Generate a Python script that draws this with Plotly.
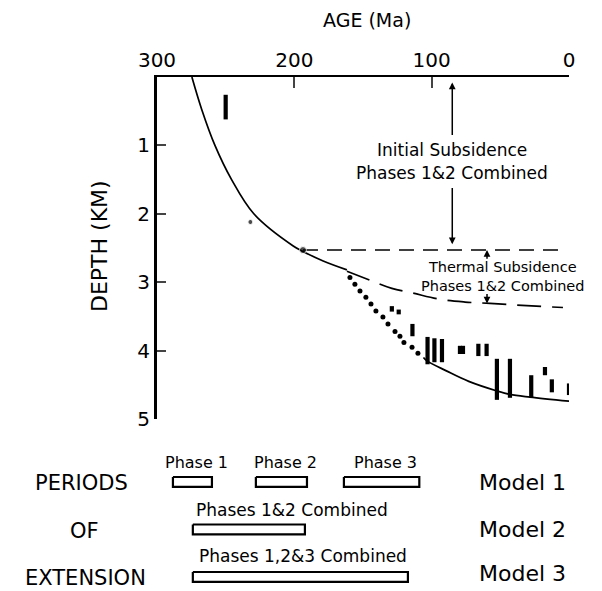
import plotly.graph_objects as go

# subsidence model curve (age Ma, depth km)
curve_a_age = [274.6, 267.5, 257.8, 245.7, 229.5, 200.8, 193.7, 179.0, 161.7]
curve_a_depth = [0.0, 0.47, 1.0, 1.5, 2.0, 2.47, 2.55, 2.69, 2.82]
dotted_age = [159.5, 155.9, 152.2, 147.9, 144.2, 140.6, 135.5, 131.8, 126.7, 123.1, 120.2, 114.3, 110.0]
dotted_depth = [2.93, 3.03, 3.13, 3.22, 3.32, 3.42, 3.51, 3.61, 3.72, 3.79, 3.88, 3.95, 4.04]
curve_b_age = [106.0, 103.4, 88.9, 73.0, 52.4, 43.0, 28.4, 0.0]
curve_b_depth = [4.10, 4.15, 4.30, 4.45, 4.59, 4.64, 4.68, 4.74]

# thermal subsidence, phases 1&2 combined
thermal_age = [161.7, 145.0, 129.0, 113.6, 94.0, 75.7, 57.5, 34.2, 4.4]
thermal_depth = [2.84, 2.97, 3.09, 3.16, 3.25, 3.29, 3.31, 3.34, 3.37]
initial_age = [193.7, 5.0]
initial_depth = [2.53, 2.53]

# observed depth ranges
bar_age = [250, 129, 124, 114, 103, 98, 92.5, 79.4, 77.2, 66, 60, 52.5, 43, 27.5, 17.5, 12.5, 0]
bar_top = [0.26, 3.35, 3.40, 3.61, 3.80, 3.82, 3.83, 3.93, 3.93, 3.90, 3.90, 4.12, 4.12, 4.36, 4.24, 4.42, 4.48]
bar_bot = [0.62, 3.43, 3.47, 3.79, 4.20, 4.17, 4.17, 4.05, 4.05, 4.08, 4.08, 4.72, 4.69, 4.68, 4.36, 4.61, 4.65]
point_age = [232, 193.7]
point_depth = [2.12, 2.53]

# periods of extension (age Ma)
phase_names = ["Phase 1", "Phase 2", "Phase 3"]
phase_start = [288.4, 228.0, 163.9]
phase_end = [260.0, 190.8, 109.0]
model2_period = [273.9, 192.3]
model3_period = [273.9, 117.3]

x_ticks = [300, 200, 100, 0]
y_ticks = [1, 2, 3, 4, 5]

FONT = "DejaVu Sans"
W, H = 602, 591
ML, MR, MT, MB = 157, 33, 77, 5


def xp(p):
    return (p - ML) / (W - ML - MR)


def yp(p):
    return (H - MB - p) / (H - MT - MB)


fig = go.Figure()

fig.add_trace(go.Scatter(x=curve_a_age, y=curve_a_depth, mode="lines",
                         line=dict(color="black", width=1.7, shape="spline")))
fig.add_trace(go.Scatter(x=dotted_age, y=dotted_depth, mode="markers",
                         marker=dict(color="black", size=5)))
fig.add_trace(go.Scatter(x=curve_b_age, y=curve_b_depth, mode="lines",
                         line=dict(color="black", width=1.7, shape="spline")))
fig.add_trace(go.Scatter(x=thermal_age, y=thermal_depth, mode="lines",
                         line=dict(color="black", width=1.7, dash="24px,11px", shape="spline")))
fig.add_trace(go.Scatter(x=initial_age, y=initial_depth, mode="lines",
                         line=dict(color="black", width=1.5, dash="15px,9px")))

bx, by = [], []
for a, t, b in zip(bar_age, bar_top, bar_bot):
    bx += [a, a, None]
    by += [t, b, None]
fig.add_trace(go.Scatter(x=bx, y=by, mode="lines", cliponaxis=False,
                         line=dict(color="black", width=4.2)))
fig.add_trace(go.Scatter(x=point_age, y=point_depth, mode="markers",
                         marker=dict(color="black", size=[5, 7])))

# extension period boxes
h = 0.105
boxes = [(s, e, 1) for s, e in zip(phase_start, phase_end)]
boxes.append((model2_period[0], model2_period[1], 2))
boxes.append((model3_period[0], model3_period[1], 3))
for s, e, r in boxes:
    fig.add_trace(go.Scatter(x=[s, e, e, s, s], y=[r - h, r - h, r + h, r + h, r - h],
                             mode="lines", xaxis="x2", yaxis="y2", cliponaxis=False,
                             line=dict(color="black", width=2.2)))

ann = []


def text(t, x, y, size, xanchor="center", angle=0):
    ann.append(dict(text=t, x=xp(x), y=yp(y), xref="paper", yref="paper", showarrow=False,
                    xanchor=xanchor, yanchor="middle", textangle=angle,
                    font=dict(family=FONT, size=size, color="black")))


text("AGE (Ma)", 367, 20, 19)
text("DEPTH (KM)", 99, 246, 22, angle=-90)
text("Initial Subsidence", 452, 150, 17)
text("Phases 1&2 Combined", 452, 173, 17)
text("Thermal Subsidence<br>Phases 1&2 Combined", 503, 276, 14.5)

text("PERIODS", 81, 483, 21)
text("OF", 84, 531, 21)
text("EXTENSION", 85, 578, 21)
for name, cx in zip(phase_names, [196, 285, 385]):
    text(name, cx, 462, 16)
text("Phases 1&2 Combined", 292, 510, 17)
text("Phases 1,2&3 Combined", 303, 556, 17)
for i, yy in enumerate([482, 529, 573]):
    text(f"Model {i + 1}", 477, yy, 22, xanchor="left")


def arrow(age, head, tail):
    ann.append(dict(x=age, y=head, ax=age, ay=tail, xref="x", yref="y", axref="x", ayref="y",
                    text="", showarrow=True, arrowhead=2, arrowsize=0.9, arrowwidth=1.5,
                    arrowcolor="black"))


arrow(85, 0.08, 0.87)
arrow(85, 2.445, 1.60)
arrow(59.7, 2.53, 2.68)
arrow(59.7, 3.31, 3.15)

fig.update_layout(
    width=W, height=H,
    margin=dict(l=ML, r=MR, t=MT, b=MB, autoexpand=False),
    paper_bgcolor="white", plot_bgcolor="white",
    showlegend=False,
    annotations=ann,
    xaxis=dict(range=[300, 0], side="top", anchor="y", domain=[0, 1],
               tickvals=x_ticks, ticks="inside", ticklen=11, tickwidth=2,
               showline=True, linewidth=2, linecolor="black",
               showgrid=False, zeroline=False, automargin=False,
               tickfont=dict(family=FONT, size=20, color="black")),
    yaxis=dict(range=[5, 0], domain=[yp(419), 1], anchor="x",
               tickvals=y_ticks, ticks="inside", ticklen=9, tickwidth=1.5,
               showline=True, linewidth=3, linecolor="black",
               showgrid=False, zeroline=False, automargin=False,
               tickfont=dict(family=FONT, size=20, color="black")),
    xaxis2=dict(matches="x", anchor="y2", visible=False, domain=[0, 1]),
    yaxis2=dict(range=[3.19, 0.116], domain=[0, yp(440)], anchor="x2", visible=False),
)

fig.write_html("out.html", config={"displayModeBar": False},
               post_script="document.body.style.margin='0';")
